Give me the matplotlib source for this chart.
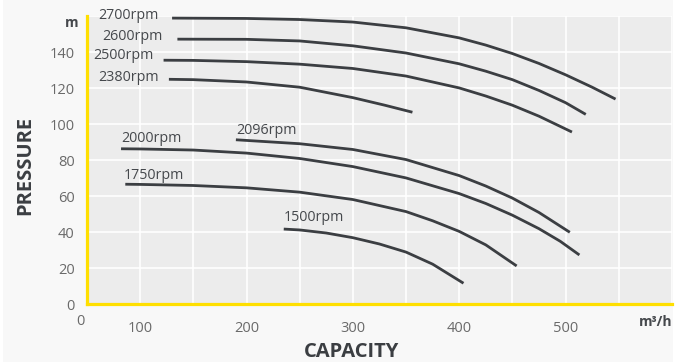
import matplotlib
matplotlib.use("Agg")
import matplotlib.pyplot as plt
from matplotlib.patches import Rectangle

plt.rcParams['font.family'] = ['Open Sans', 'DejaVu Sans']

# pump curves: capacity (m3/h) and pressure (m)
q_2700 = [130, 200, 250, 300, 350, 400, 425, 450, 475, 500, 525, 547]
h_2700 = [159.0, 158.8, 158.2, 156.8, 153.6, 148.0, 144.0, 139.3, 133.8, 127.5, 120.6, 114.0]
q_2600 = [135, 200, 250, 300, 350, 400, 425, 450, 475, 500, 519]
h_2600 = [147.3, 147.2, 146.3, 143.6, 139.6, 133.6, 129.5, 124.8, 118.8, 112.0, 105.5]
q_2500 = [122, 150, 200, 250, 300, 350, 400, 425, 450, 475, 506]
h_2500 = [135.6, 135.5, 134.8, 133.4, 131.0, 126.8, 120.2, 115.7, 110.6, 104.5, 95.7]
q_2380 = [127, 150, 200, 250, 300, 330, 356]
h_2380 = [125.0, 124.8, 123.5, 120.6, 114.8, 110.6, 106.7]
q_2096 = [190, 250, 300, 350, 400, 425, 450, 475, 504]
h_2096 = [91.4, 89.2, 86.0, 80.4, 71.5, 65.7, 59.0, 51.0, 40.0]
q_2000 = [82, 100, 150, 200, 250, 300, 350, 400, 425, 450, 475, 495, 513]
h_2000 = [86.4, 86.3, 85.7, 84.0, 81.0, 76.5, 70.2, 61.5, 56.0, 49.5, 42.0, 35.0, 27.4]
q_1750 = [86, 100, 150, 200, 250, 300, 350, 375, 400, 425, 454]
h_1750 = [66.7, 66.6, 66.0, 64.7, 62.3, 58.2, 51.5, 46.4, 40.5, 33.0, 21.3]
q_1500 = [235, 250, 275, 300, 325, 350, 375, 404]
h_1500 = [41.8, 41.3, 39.6, 37.0, 33.5, 29.0, 22.3, 11.7]

curves = [
    ("2700rpm", q_2700, h_2700, (61, 160.7)),
    ("2600rpm", q_2600, h_2600, (64, 149.0)),
    ("2500rpm", q_2500, h_2500, (56, 138.0)),
    ("2380rpm", q_2380, h_2380, (60.5, 126.1)),
    ("2096rpm", q_2096, h_2096, (190.5, 96.4)),
    ("2000rpm", q_2000, h_2000, (82, 92.2)),
    ("1750rpm", q_1750, h_1750, (84.5, 71.8)),
    ("1500rpm", q_1500, h_1500, (235, 48.3)),
]

x_ticks = [100, 200, 300, 400, 500]
y_ticks = [0, 20, 40, 60, 80, 100, 120, 140]

fig = plt.figure(figsize=(6.9, 3.62), dpi=100, facecolor='white')
fig.patches.append(Rectangle((3 / 690, 0), 670 / 690, 1, transform=fig.transFigure,
                             facecolor='#f8f8f8', edgecolor='none', zorder=-10))
ax = fig.add_axes([0.1261, 0.1594, 0.8477, 0.7956])
ax.set_facecolor('#ececec')

line_col = '#3b3e42'
for name, q, h, pos in curves:
    ax.plot(q, h, color=line_col, lw=2.0, solid_capstyle='butt',
            solid_joinstyle='round', zorder=3)
    ax.text(pos[0], pos[1], name, fontsize=10.3, color='#45484c',
            ha='left', va='center', clip_on=False, zorder=4)

ax.set_xlim(50, 600)
ax.set_ylim(0, 160)

# grid every 50 m3/h and 20 m
ax.set_xticks(x_ticks)
ax.set_yticks(y_ticks)
ax.set_xticks([x for x in range(50, 601, 50) if x not in x_ticks], minor=True)
ax.set_yticks([160], minor=True)
ax.grid(True, which='both', color='white', lw=1.2)
ax.set_axisbelow(True)

ax.tick_params(which='both', length=0)
ax.tick_params(axis='x', pad=12, labelsize=10.5, labelcolor='#6a6a6a')
ax.tick_params(axis='y', pad=9, labelsize=10.5, labelcolor='#6a6a6a')

for s in ['top', 'right']:
    ax.spines[s].set_visible(False)
for s in ['left', 'bottom']:
    ax.spines[s].set_color('#ffdf00')
    ax.spines[s].set_linewidth(2.3)
    ax.spines[s].set_zorder(5)

# origin / unit labels
ax.text(-0.0105, -0.061, "0", transform=ax.transAxes, fontsize=10.5, color='#6a6a6a',
        ha='center', va='center')
ax.text(-0.027, 0.978, "m", transform=ax.transAxes, fontsize=10, color='#45484c',
        fontweight='bold', ha='center', va='center')
ax.text(1.0, -0.061, "m³/h", transform=ax.transAxes, fontsize=10, color='#45484c',
        fontweight='bold', ha='right', va='center')

fig.text(352 / 690, 1 - 352 / 362, "CAPACITY", fontsize=14.5, fontweight='bold',
         color='#3b3e42', ha='center', va='center')
fig.text(25 / 690, 1 - 165 / 362, "PRESSURE", fontsize=14.5, fontweight='bold',
         color='#3b3e42', ha='center', va='center', rotation=90)

fig.savefig("out.png", dpi=100, facecolor=fig.get_facecolor())
